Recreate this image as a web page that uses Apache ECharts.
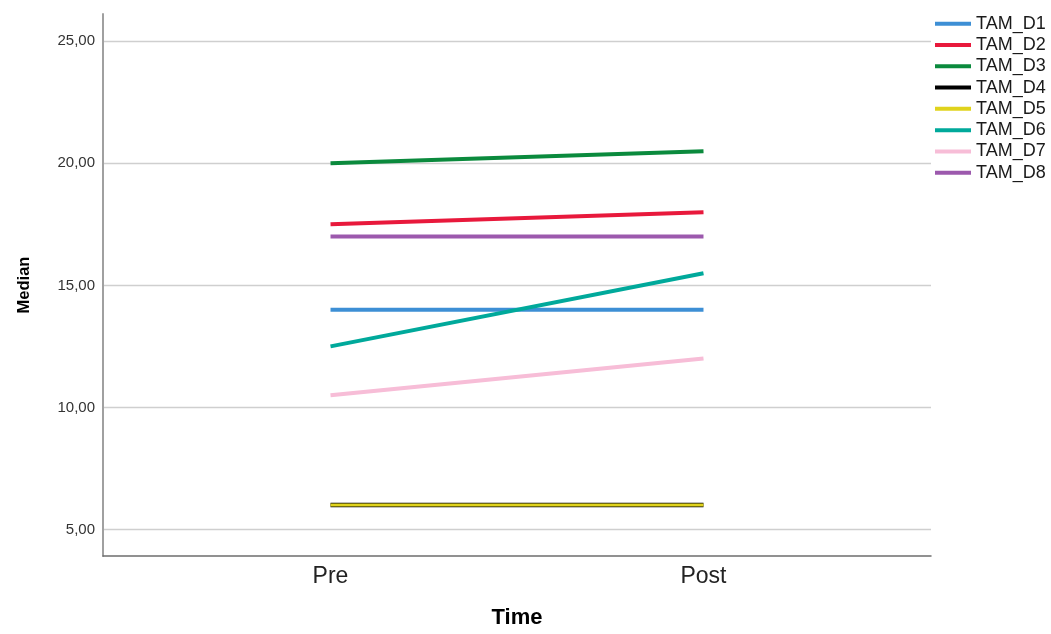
<!DOCTYPE html>
<html>
<head>
<meta charset="utf-8">
<script src="https://cdn.jsdelivr.net/npm/echarts@6/dist/echarts.min.js"></script>
<style>
html,body{margin:0;padding:0;background:#fff;overflow:hidden;}
#chart{width:1051px;height:634px;}
</style>
</head>
<body>
<div id="chart"></div>
<script>
const categories = ['Pre', 'Post'];
const seriesNames = ['TAM_D1','TAM_D2','TAM_D3','TAM_D4','TAM_D5','TAM_D6','TAM_D7','TAM_D8'];
const D1 = [14, 14];
const D2 = [17.5, 18];
const D3 = [20, 20.5];
const D4 = [6, 6];
const D5 = [6, 6];
const D6 = [12.5, 15.5];
const D7 = [10.5, 12];
const D8 = [17, 17];
const yTicks = [5, 10, 15, 20, 25];
const seriesValues = [D1, D2, D3, D4, D5, D6, D7, D8];
const colors = ['#3d8fd5','#e8193c','#0b8a3d','#000000','#e0d31c','#00a99b','#f7bdd7','#9c59ad'];
const widths = [4, 4, 4, 4.5, 3, 4, 4, 4];

const series = seriesValues.map((vals, i) => ({
  name: seriesNames[i],
  type: 'line',
  data: vals.map((v, j) => [j + 1, v]),
  symbol: 'none',
  color: colors[i],
  lineStyle: { width: widths[i], color: colors[i], cap: 'butt' },
  itemStyle: { color: colors[i] },
  emphasis: { disabled: true },
  animation: false
}));

const chart = echarts.init(document.getElementById('chart'));
chart.setOption({
  animation: false,
  grid: { left: 103, right: 120, top: 14, bottom: 71, containLabel: false },
  legend: {
    orient: 'vertical',
    left: 935,
    top: 13,
    itemGap: 0,
    itemWidth: 36,
    itemHeight: 4,
    icon: 'rect',
    padding: 0,
    data: seriesNames,
    textStyle: { fontFamily: 'Liberation Sans', fontSize: 18, lineHeight: 21.3, color: '#1a1a1a' }
  },
  xAxis: {
    type: 'value',
    min: 0.39,
    max: 2.61,
    name: 'Time',
    nameLocation: 'middle',
    nameGap: 51,
    nameTextStyle: { fontFamily: 'Liberation Sans', fontSize: 22, fontWeight: 'bold', color: '#000' },
    axisLine: { show: true, lineStyle: { color: '#6e6e6e', width: 1.5 } },
    axisTick: { show: false, customValues: [1, 2] },
    axisLabel: {
      customValues: [1, 2],
      formatter: v => categories[Math.round(v) - 1] || '',
      margin: 9,
      fontFamily: 'Liberation Sans',
      fontSize: 23,
      color: '#222'
    },
    splitLine: { show: false }
  },
  yAxis: {
    type: 'value',
    min: 3.91,
    max: 26.12,
    name: 'Median',
    nameLocation: 'middle',
    nameGap: 70,
    nameTextStyle: { fontFamily: 'Liberation Sans', fontSize: 16.5, fontWeight: 'bold', color: '#000' },
    axisLine: { show: true, lineStyle: { color: '#a0a0a0', width: 2 } },
    axisTick: { show: false, customValues: yTicks },
    axisLabel: {
      customValues: yTicks,
      formatter: v => v.toFixed(2).replace('.', ','),
      margin: 8,
      fontFamily: 'Liberation Sans',
      fontSize: 15,
      color: '#333'
    },
    splitLine: { show: true, lineStyle: { color: '#cfcfcf', width: 1.3 } }
  },
  series: series
});
</script>
</body>
</html>
